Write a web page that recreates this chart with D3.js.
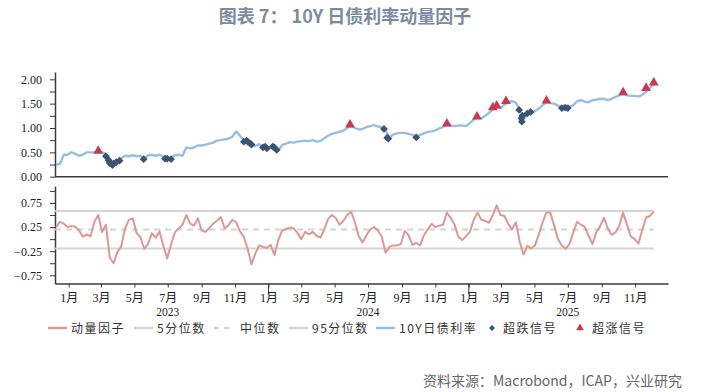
<!DOCTYPE html>
<html><head><meta charset="utf-8">
<script src="https://cdn.jsdelivr.net/npm/d3@7"></script>
<style>body{margin:0;background:#fff;} svg{display:block;}</style>
</head><body><svg id="c" width="708" height="392"></svg>
<script>
// ---------------- DATA ----------------
const firstWeek = "2022-12-09"; // weekly observations (Fridays)
const yieldValues = [0.25,0.26,0.45,0.45,0.50,0.47,0.43,0.45,0.50,0.50,
 0.50,0.50,0.50,0.46,0.32,0.23,0.29,0.38,0.43,0.42,
 0.44,0.42,0.43,0.37,0.44,0.45,0.43,0.45,0.42,0.38,
 0.38,0.44,0.45,0.43,0.60,0.58,0.60,0.64,0.64,0.66,
 0.68,0.70,0.74,0.75,0.77,0.78,0.82,0.93,0.84,0.75,
 0.71,0.66,0.63,0.67,0.60,0.57,0.61,0.55,0.53,0.65,
 0.68,0.71,0.70,0.72,0.73,0.74,0.73,0.75,0.72,0.73,
 0.79,0.84,0.88,0.90,0.92,0.95,1.00,1.04,1.00,0.97,
 0.98,1.02,1.04,1.06,1.03,1.02,0.95,0.80,0.87,0.89,
 0.90,0.90,0.88,0.86,0.81,0.86,0.89,0.92,0.93,0.95,
 0.99,1.02,1.06,1.05,1.04,1.05,1.05,1.04,1.10,1.17,
 1.21,1.20,1.25,1.31,1.38,1.43,1.41,1.48,1.53,1.55,
 1.52,1.38,1.18,1.27,1.31,1.35,1.40,1.47,1.53,1.51,
 1.50,1.46,1.43,1.42,1.44,1.47,1.55,1.57,1.54,1.53,
 1.57,1.58,1.60,1.60,1.57,1.60,1.64,1.67,1.70,1.67,
 1.66,1.66,1.65,1.68,1.75,1.82,1.90];
const momentumValues = [0.25,0.36,0.32,0.25,0.27,0.26,0.18,0.05,0.10,0.06,
 0.36,0.50,0.15,0.30,-0.38,-0.50,-0.27,-0.15,0.22,0.40,
 0.43,0.13,0.04,-0.20,-0.10,0.12,0.03,0.16,-0.14,-0.40,
 -0.11,0.14,0.22,0.30,0.50,0.32,0.28,0.43,0.18,0.15,
 0.23,0.32,0.38,0.46,0.22,0.29,0.40,0.35,0.16,0.05,
 -0.20,-0.52,-0.30,-0.13,-0.16,-0.18,-0.12,-0.33,-0.02,0.18,
 0.21,0.24,0.22,0.13,0.00,0.15,0.10,0.15,0.07,0.03,
 0.20,0.42,0.50,0.44,0.30,0.38,0.50,0.57,0.35,0.06,
 -0.07,0.08,0.20,0.25,0.18,0.05,-0.28,-0.16,-0.13,-0.13,
 -0.10,0.17,0.08,-0.12,-0.08,-0.13,0.08,0.20,0.32,0.25,
 0.28,0.30,0.55,0.44,0.30,0.05,-0.02,0.06,0.15,0.40,
 0.55,0.40,0.38,0.34,0.50,0.70,0.50,0.48,0.32,0.20,
 0.35,-0.05,-0.32,-0.14,-0.19,-0.13,0.10,0.35,0.56,0.55,
 0.28,0.00,-0.13,-0.20,-0.10,0.14,0.36,0.30,0.25,0.07,
 -0.10,0.14,0.27,0.44,0.22,0.09,0.14,0.28,0.55,0.30,
 0.06,0.00,-0.09,0.19,0.45,0.48,0.57];
const pct5 = -0.195, pctMedian = 0.20, pct95 = 0.585;

const oversoldDates = ["2023-03-10","2023-03-15","2023-03-17","2023-03-22","2023-03-24","2023-03-29","2023-04-04",
  "2023-05-18","2023-06-26","2023-06-30","2023-07-07",
  "2023-11-17","2023-11-22","2023-11-24","2023-11-29","2023-12-01",
  "2023-12-22","2023-12-26","2023-12-29","2024-01-09","2024-01-12","2024-01-16",
  "2024-07-30","2024-08-05","2024-08-07","2024-09-27",
  "2025-04-03","2025-04-07","2025-04-08","2025-04-09","2025-04-18","2025-04-24",
  "2025-06-20","2025-06-26","2025-07-01"];
const oversoldValues = [0.42,0.34,0.28,0.24,0.27,0.30,0.33,
  0.36,0.37,0.37,0.36,
  0.72,0.74,0.72,0.68,0.66,
  0.60,0.62,0.58,0.62,0.60,0.55,
  0.98,0.80,0.78,0.81,
  1.37,1.20,1.13,1.25,1.30,1.33,
  1.41,1.42,1.41];
const overboughtDates = ["2023-02-24","2024-05-29","2024-11-22","2025-01-16","2025-02-14","2025-02-21",
  "2025-03-10","2025-05-23","2025-10-10","2025-11-21","2025-12-05"];
const overboughtValues = [0.51,1.05,1.07,1.21,1.40,1.44,1.53,1.54,1.71,1.80,1.91];

const monthTickLabels = ["1月","3月","5月","7月","9月","11月","1月","3月","5月","7月","9月","11月","1月","3月","5月","7月","9月","11月"];
const yearLabels = ["2023","2024","2025"];
const topTickValues = [0,0.25,0.5,0.75,1,1.25,1.5,1.75,2];
const topLabelValues = [0,0.5,1,1.5,2];
const bottomTickValues = [-0.75,-0.5,-0.25,0,0.25,0.5,0.75,1];
const bottomLabelValues = [-0.75,-0.25,0.25,0.75];
const legendNames = ["动量因子","5分位数","中位数","95分位数","10Y日债利率","超跌信号","超涨信号"];

// ---------------- CHART ----------------
const parse = d3.timeParse("%Y-%m-%d");
const svg = d3.select("#c");
const C = {mom:"#dc9896", pct:"#d4d4d4", yld:"#96bfe2", down:"#3e5274", up:"#c93a4e", axis:"#3a3a3a"};
const numFont = "'Liberation Serif','Times New Roman',serif";
const cjkFont = "'Noto Sans CJK SC','Noto Sans',sans-serif";

const start = parse(firstWeek);
const dates = yieldValues.map((_, i) => d3.timeDay.offset(start, 7 * i));

const x = d3.scaleTime().domain([new Date(2022, 11, 7), new Date(2025, 11, 31)]).range([55, 668]);
const yTop = d3.scaleLinear().domain([0, 2.15]).range([176.7, 72]);
const yBot = d3.scaleLinear().domain([-0.92, 1.1]).range([283.5, 186.1]);

// title
svg.append("text").attr("x", 345).attr("y", 23).attr("text-anchor", "middle")
  .attr("font-family", cjkFont).attr("font-size", 18).attr("font-weight", "bold")
  .attr("fill", "#7d8ba0").text("图表 7：\u00a010Y 日债利率动量因子");

// axes
function styleAxis(g) {
  g.select(".domain").attr("stroke", C.axis).attr("stroke-width", 1.5);
  g.selectAll(".tick line").attr("stroke", C.axis);
  g.selectAll(".tick text").attr("font-family", numFont).attr("font-size", 12).attr("fill", "#222");
}
const gTopY = svg.append("g").attr("transform", "translate(55,0)")
  .call(d3.axisLeft(yTop).tickValues(topTickValues).tickSize(5).tickSizeOuter(0).tickPadding(8)
    .tickFormat(d => topLabelValues.includes(d) ? d3.format(".2f")(d) : ""));
styleAxis(gTopY);
const gBotY = svg.append("g").attr("transform", "translate(55,0)")
  .call(d3.axisLeft(yBot).tickValues(bottomTickValues).tickSize(5).tickSizeOuter(0).tickPadding(8)
    .tickFormat(d => bottomLabelValues.includes(d) ? d3.format(".2f")(d) : ""));
styleAxis(gBotY);

// top panel baseline
svg.append("line").attr("x1", x.range()[0]).attr("x2", x.range()[1])
  .attr("y1", yTop(0)).attr("y2", yTop(0)).attr("stroke", C.axis).attr("stroke-width", 1.5);

// bottom x axis
const monthTicks = d3.timeMonth.every(2).range(new Date(2023, 0, 1), new Date(2025, 11, 2));
const gX = svg.append("g").attr("transform", `translate(0,${yBot(-0.92)})`)
  .call(d3.axisBottom(x).tickValues(monthTicks).tickSize(4).tickSizeOuter(0).tickPadding(6)
    .tickFormat((d, i) => monthTickLabels[i]));
styleAxis(gX);
gX.selectAll(".tick text").attr("font-family", numFont + "," + cjkFont).attr("font-size", 12);
[new Date(2024, 0, 1), new Date(2025, 0, 1)].forEach(d => {
  gX.append("line").attr("x1", x(d)).attr("x2", x(d)).attr("y1", 0).attr("y2", 11)
    .attr("stroke", C.axis).attr("stroke-width", 1);
});
yearLabels.forEach(yr => {
  const mid = new Date(+yr, 6, 1);
  svg.append("text").attr("x", x(mid)).attr("y", 316).attr("text-anchor", "middle")
    .attr("font-family", numFont).attr("font-size", 11.5).attr("fill", "#222").text(yr);
});

// percentile lines
const firstD = dates[0], lastD = dates[dates.length - 1];
[[pct5, null], [pctMedian, "6,5"], [pct95, null]].forEach(([v, dash]) => {
  svg.append("line").attr("x1", x(firstD) - 1).attr("x2", x(lastD)).attr("y1", yBot(v)).attr("y2", yBot(v))
    .attr("stroke", C.pct).attr("stroke-width", 2).attr("stroke-dasharray", dash);
});

// momentum line
svg.append("path").datum(momentumValues)
  .attr("d", d3.line().x((d, i) => x(dates[i])).y(d => yBot(d)))
  .attr("fill", "none").attr("stroke", C.mom).attr("stroke-width", 2).attr("stroke-linejoin", "round");

// yield line
svg.append("path").datum(yieldValues)
  .attr("d", d3.line().x((d, i) => x(dates[i])).y(d => yTop(d)))
  .attr("fill", "none").attr("stroke", C.yld).attr("stroke-width", 2.4).attr("stroke-linejoin", "round");

// signals
const sq = d3.symbol().type(d3.symbolSquare).size(30);
svg.append("g").selectAll("path").data(oversoldDates).join("path")
  .attr("d", sq)
  .attr("transform", (d, i) => `translate(${x(parse(d))},${yTop(oversoldValues[i])}) rotate(45)`)
  .attr("fill", C.down);
const tri = d3.symbol().type(d3.symbolTriangle).size(42);
svg.append("g").selectAll("path").data(overboughtDates).join("path")
  .attr("d", tri)
  .attr("transform", (d, i) => `translate(${x(parse(d))},${yTop(overboughtValues[i]) - 1})`)
  .attr("fill", C.up);

// legend
const ly = 328;
const lg = svg.append("g");
const legendItems = [
  {type:"line", color:C.mom, x0:48, tx:71},
  {type:"line", color:C.pct, x0:134, tx:157},
  {type:"dash", color:C.pct, x0:214, tx:240},
  {type:"line", color:C.pct, x0:289, tx:312},
  {type:"line", color:C.yld, x0:376, tx:399},
  {type:"diamond", color:C.down, x0:492, tx:503},
  {type:"tri", color:C.up, x0:580, tx:592}
];
legendItems.forEach((it, i) => {
  if (it.type === "line" || it.type === "dash") {
    lg.append("line").attr("x1", it.x0).attr("x2", it.x0 + 19).attr("y1", ly).attr("y2", ly)
      .attr("stroke", it.color).attr("stroke-width", 2.5).attr("stroke-dasharray", it.type === "dash" ? "5,5" : null);
  } else if (it.type === "diamond") {
    lg.append("path").attr("d", d3.symbol().type(d3.symbolSquare).size(18))
      .attr("transform", `translate(${it.x0},${ly}) rotate(45)`).attr("fill", it.color);
  } else {
    lg.append("path").attr("d", d3.symbol().type(d3.symbolTriangle).size(26))
      .attr("transform", `translate(${it.x0},${ly})`).attr("fill", it.color);
  }
  lg.append("text").attr("x", it.tx).attr("y", ly + 4.5).attr("font-family", cjkFont)
    .attr("font-size", 12).attr("letter-spacing", 1.5).attr("fill", "#333").text(legendNames[i]);
});

// source
svg.append("text").attr("x", 423).attr("y", 386).attr("font-family", cjkFont).attr("font-size", 14)
  .attr("fill", "#666").text("资料来源：Macrobond，ICAP，兴业研究");
</script>
</body></html>
